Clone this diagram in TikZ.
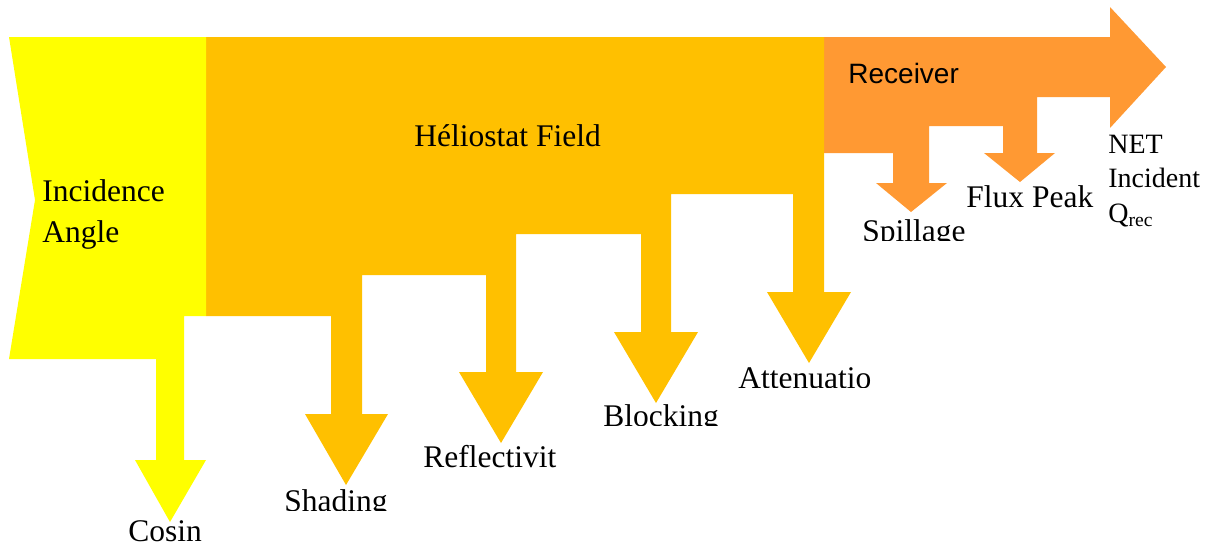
\documentclass[tikz,border=0pt]{standalone}
\usepackage{fontspec}
\setmainfont{Liberation Serif}
\setsansfont{Liberation Sans}
\usepackage{tikz}

\definecolor{incid}{HTML}{FFFF00}
\definecolor{field}{HTML}{FFC000}
\definecolor{recv}{HTML}{FF9933}

\begin{document}
\begin{tikzpicture}[x=0.5pt,y=-0.5pt,
  lbl/.style={anchor=base west,inner sep=0pt,font=\fontsize{15.75}{18}\selectfont},
  nlbl/.style={anchor=base west,inner sep=0pt,font=\fontsize{14}{17}\selectfont},
  slbl/.style={anchor=base west,inner sep=0pt,font=\sffamily\fontsize{14}{17}\selectfont}]
\useasboundingbox (0,0) rectangle (1216,548);
%Receiver with its losses
\fill[recv] (824,37)--(1110,37)--(1110,7)--(1166,67)--(1110,128)--(1110,97)--(1037,97)
  --(1037,153)--(1055,153)--(1020,182)--(984,153)--(1003,153)--(1003,126)--(929,126)
  --(929,183)--(947,183)--(911,212)--(876,183)--(893,183)--(893,153)--(824,153)--cycle;
%Heliostat field with its losses
\fill[field] (206,37)--(824,37)--(824,292)--(851,292)--(809,363)--(767,292)--(793,292)
  --(793,194)--(671,194)--(671,332)--(698,332)--(656,403)--(614,332)--(641,332)
  --(641,234)--(516,234)--(516,372)--(543,372)--(501,443)--(459,372)--(486,372)
  --(486,275)--(362,275)--(362,414)--(388,414)--(346,485)--(305,414)--(331,414)
  --(331,316)--(206,316)--cycle;
%Incidence angle with cosine loss
\fill[incid] (9,37)--(206,37)--(206,316)--(184,316)--(184,460)--(206,460)--(170,522)
  --(135,460)--(156,460)--(156,359)--(9,359)--(35,200)--cycle;
%Labels
\node[lbl] (inc1) at (42,201) {Incidence};
\node[lbl] (inc2) at (42,242) {Angle};
\node[lbl] (hf) at (414,146) {Héliostat Field};
\node[slbl] (rec) at (848,83) {Receiver};
\node[lbl] (cos) at (128,541) {Cosin};
\node[lbl] (refl) at (423,467) {Reflectivit};
\node[lbl] (flux) at (966,207) {Flux Peak};
\node[nlbl] (net1) at (1108,153) {NET};
\node[nlbl] (net2) at (1108,187) {Incident};
\node[nlbl] (net3) at (1108,222) {Q\textsubscript{rec}};
%clipped labels
\begin{scope}
\clip (270,470) rectangle (420,510);
\node[lbl] (shad) at (284,511) {Shading};
\end{scope}
\begin{scope}
\clip (590,390) rectangle (740,425);
\node[lbl] (block) at (603,426) {Blocking};
\end{scope}
\begin{scope}
\clip (725,350) rectangle (875,387);
\node[lbl] (att) at (738,388) {Attenuatio};
\end{scope}
\begin{scope}
\clip (850,205) rectangle (980,240);
\node[lbl] (spill) at (862,241) {Spillage};
\end{scope}
\end{tikzpicture}
\end{document}
